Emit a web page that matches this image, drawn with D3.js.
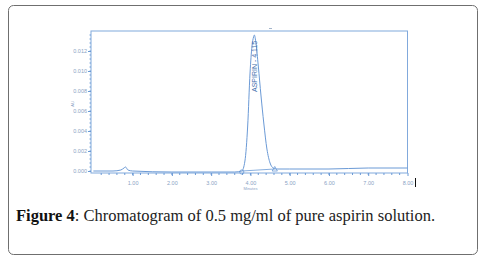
<!DOCTYPE html>
<html>
<head>
<meta charset="utf-8">
<script src="https://cdn.jsdelivr.net/npm/d3@7"></script>
<style>
  body { margin: 0; background: #fff; }
  svg { display: block; }
</style>
</head>
<body>
<svg id="chart" width="480" height="262"></svg>
<script>
// chromatogram trace (minutes, AU)
const times = [0, 0.5, 0.7, 0.78, 0.82, 0.88, 1.0, 2.0, 3.0, 3.6, 3.78, 3.86, 3.93, 3.99, 4.04, 4.08, 4.1, 4.14, 4.2, 4.27, 4.34, 4.42, 4.5, 4.58, 4.66, 5.0, 6.0, 7.0, 8.0]
const au = [0.0000, 0.0000, 0.0001, 0.0003, 0.0004, 0.0001, 0.0000, -0.0001, -0.0001, -0.0001, 0.0000, 0.0010, 0.0045, 0.0098, 0.0125, 0.0134, 0.0136, 0.0128, 0.0105, 0.0075, 0.0048, 0.0022, 0.0008, 0.0003, 0.0002, 0.0002, 0.0002, 0.0003, 0.0003]

// integration baseline of the aspirin peak
const baseStart = [3.78, 0.0000]
const baseEnd = [4.62, 0.0002]

const yTicks = [0.000, 0.002, 0.004, 0.006, 0.008, 0.010, 0.012]
const xTicks = [1, 2, 3, 4, 5, 6, 7, 8]
const peakLabel = 'ASPIRIN - 4.115'
const caption = ['Figure 4', ': Chromatogram of 0.5 mg/ml of pure aspirin solution.']

const svg = d3.select('#chart')

/* ----------  OUTER BOX  ---------- */
svg.append('rect')
  .attr('x', 8.5).attr('y', 5.5)
  .attr('width', 469).attr('height', 249)
  .attr('rx', 5)
  .attr('fill', '#fff')
  .attr('stroke', '#6f6f6f')
  .attr('stroke-width', 1)

const blue = '#6b9ad6'
const tickText = '#8aa3c4'

/* ----------  SCALES  ---------- */
const x = d3.scaleLinear().domain([-0.06, 8.0]).range([91, 407.5])
const y = d3.scaleLinear().domain([0, 0.012]).range([171, 51])

const g = svg.append('g')

/* plot frame */
g.append('rect')
  .attr('x', x(-0.06)).attr('y', 31)
  .attr('width', x(8) - x(-0.06)).attr('height', 173 - 31)
  .attr('fill', 'none')
  .attr('stroke', blue)
  .attr('stroke-width', 1)
  .attr('opacity', 0.85)

/* y axis */
const yAxis = g.append('g')
  .attr('transform', `translate(${x(-0.06)},0)`)
  .call(d3.axisLeft(y).tickValues(yTicks).tickSize(3).tickPadding(1).tickFormat(d3.format('.3f')))
yAxis.selectAll('text').style('font-family', 'Arial, "Liberation Sans", sans-serif').style('font-size', '5.5px').attr('fill', tickText)
yAxis.selectAll('line').attr('stroke', blue)
yAxis.select('.domain').remove()

const yMinor = d3.range(-0.0000, 0.0137, 0.0004)
g.append('g').selectAll('line')
  .data(yMinor)
  .join('line')
  .attr('x1', x(-0.06) - 1.5).attr('x2', x(-0.06))
  .attr('y1', d => y(d)).attr('y2', d => y(d))
  .attr('stroke', blue)

/* x axis */
const xAxis = g.append('g')
  .attr('transform', 'translate(0,173)')
  .call(d3.axisBottom(x).tickValues(xTicks).tickSize(3).tickPadding(5).tickFormat(d3.format('.2f')))
xAxis.selectAll('text').style('font-family', 'Arial, "Liberation Sans", sans-serif').style('font-size', '5.5px').attr('fill', tickText)
xAxis.selectAll('line').attr('stroke', blue)
xAxis.select('.domain').remove()

const xMinor = d3.range(0.2, 8.0, 0.2)
g.append('g').selectAll('line')
  .data(xMinor)
  .join('line')
  .attr('x1', d => x(d)).attr('x2', d => x(d))
  .attr('y1', 173).attr('y2', 175)
  .attr('stroke', blue)

g.append('text')
  .attr('x', x(4)).attr('y', 190)
  .attr('text-anchor', 'middle')
  .style('font-family', 'Arial, sans-serif')
  .style('font-size', '4px')
  .attr('fill', tickText)
  .text('Minutes')

g.append('text')
  .attr('transform', `translate(${74},${y(0.0067)}) rotate(-90)`)
  .attr('text-anchor', 'middle')
  .style('font-family', 'Arial, sans-serif')
  .style('font-size', '4px')
  .attr('fill', tickText)
  .text('AU')

/* ----------  TRACE  ---------- */
const line = d3.line().x(d => x(d[0])).y(d => y(d[1])).curve(d3.curveMonotoneX)
g.append('path')
  .datum(d3.zip(times, au))
  .attr('d', line)
  .attr('fill', 'none')
  .attr('stroke', blue)
  .attr('stroke-width', 1)

g.append('line')
  .attr('x1', x(baseStart[0])).attr('y1', y(baseStart[1]))
  .attr('x2', x(baseEnd[0])).attr('y2', y(baseEnd[1]))
  .attr('stroke', blue)
  .attr('stroke-width', 0.8)

g.append('path')
  .attr('d', d3.symbol(d3.symbolCircle, 14)())
  .attr('transform', `translate(${x(baseStart[0])},${y(baseStart[1]) + 1})`)
  .attr('fill', 'none').attr('stroke', blue).attr('stroke-width', 0.8)

g.append('path')
  .attr('d', d3.symbol(d3.symbolTriangle, 12)())
  .attr('transform', `translate(${x(baseEnd[0])},${y(baseEnd[1]) + 0.5})`)
  .attr('fill', 'none').attr('stroke', blue).attr('stroke-width', 0.8)

/* peak label */
g.append('text')
  .attr('transform', `translate(${x(4.16)},${y(0.0079)}) rotate(-90)`)
  .attr('text-anchor', 'start')
  .style('font-family', 'Arial, "Liberation Sans", sans-serif')
  .style('font-size', '7px')
  .attr('fill', '#3f6fae')
  .text(peakLabel)

/* scan marks */
g.append('line')
  .attr('x1', 269).attr('x2', 272).attr('y1', 28.5).attr('y2', 28.5)
  .attr('stroke', '#7d95b5').attr('stroke-width', 0.7)
g.append('line')
  .attr('x1', 415.5).attr('x2', 415.5).attr('y1', 178).attr('y2', 187)
  .attr('stroke', '#111').attr('stroke-width', 1)

/* ----------  CAPTION  ---------- */
const cap = svg.append('text')
  .attr('x', 16).attr('y', 221)
  .style('font-family', '"Liberation Serif", "DejaVu Serif", serif')
  .style('font-size', '16.5px')
  .attr('fill', '#222')
cap.append('tspan').style('font-weight', 'bold').attr('fill', '#111').text(caption[0])
cap.append('tspan').text(caption[1])
</script>
</body>
</html>
